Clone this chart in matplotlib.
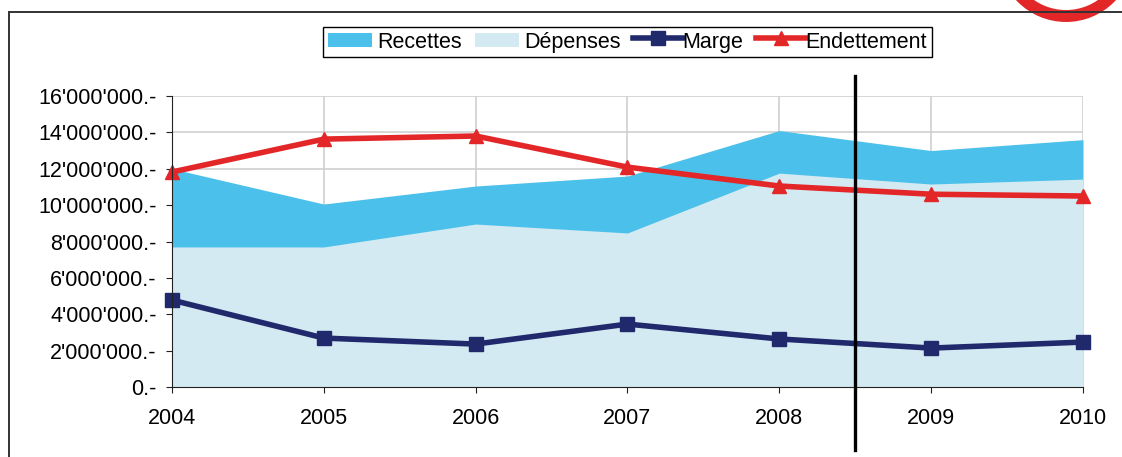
import numpy as np
import matplotlib
matplotlib.use("Agg")
import matplotlib.pyplot as plt
from matplotlib.lines import Line2D
from matplotlib.patches import Circle
from matplotlib.transforms import IdentityTransform
from matplotlib.legend_handler import HandlerLine2D

plt.rcParams["font.family"] = ["Liberation Sans", "DejaVu Sans"]
plt.rcParams["font.size"] = 12

years = [2004, 2005, 2006, 2007, 2008, 2009, 2010]
recettes = [12.0e6, 10.06e6, 11.05e6, 11.6e6, 14.1e6, 13.0e6, 13.6e6]
depenses = [7.7e6, 7.7e6, 8.96e6, 8.47e6, 11.76e6, 11.16e6, 11.43e6]
marge = [4.78e6, 2.69e6, 2.36e6, 3.46e6, 2.64e6, 2.14e6, 2.47e6]
endettement = [11.82e6, 13.63e6, 13.8e6, 12.09e6, 11.05e6, 10.6e6, 10.5e6]
y_ticks = [0, 2e6, 4e6, 6e6, 8e6, 10e6, 12e6, 14e6, 16e6]
split_year = 2008.5

C_REC = "#4bc0ea"
C_DEP = "#d3eaf2"
C_MARGE = "#1f296b"
C_DETTE = "#e32628"


def fmt(v):
    return f"{int(v):,}".replace(",", "'") + ".-"


class RaisedLine(HandlerLine2D):
    """Excel-like legend line: a bit longer and sitting higher than the text."""
    def create_artists(self, legend, orig_handle, xdescent, ydescent, width, height,
                       fontsize, trans):
        return super().create_artists(legend, orig_handle, xdescent, ydescent - 0.3 * height,
                                      width * 1.12, height, fontsize, trans)


fig = plt.figure(figsize=(11.22, 4.57), dpi=100)
ax = fig.add_axes([172 / 1122, 1 - 387 / 457, (1083 - 172) / 1122, (387 - 96) / 457])

ax.fill_between(years, 0, recettes, color=C_REC, lw=0, label="Recettes", zorder=1)
ax.fill_between(years, 0, depenses, color=C_DEP, lw=0, label="Dépenses", zorder=1.1)
l_marge, = ax.plot(years, marge, color=C_MARGE, lw=4.0, marker="s", ms=10, label="Marge",
                   zorder=3, clip_on=False)
l_dette, = ax.plot(years, endettement, color=C_DETTE, lw=4.0, marker="^", ms=10.5,
                   label="Endettement", zorder=3, clip_on=False)

ax.set_xlim(2004, 2010)
ax.set_ylim(0, 16e6)
ax.set_xticks(years)
ax.set_xticklabels([str(y) for y in years])
ax.set_yticks(y_ticks)
ax.set_yticklabels([fmt(v) for v in y_ticks])
ax.grid(True, color="#d0d0d0", lw=1.2, zorder=0)
ax.set_axisbelow(True)
for s in ("top", "right"):
    ax.spines[s].set_visible(False)
for s in ("left", "bottom"):
    ax.spines[s].set_color("#222222")
    ax.spines[s].set_zorder(4)
ax.tick_params(axis="both", direction="out", length=4.5, color="#222222", labelsize=15.5)
ax.tick_params(axis="y", pad=6.5)
ax.tick_params(axis="x", pad=10.5)

# separator between actual and budget years
ax.plot([split_year, split_year], [-3.46e6, 17.1e6], color="black", lw=2.4,
        clip_on=False, zorder=5)

raised = RaisedLine(numpoints=1)
fig.legend(loc="upper center", bbox_to_anchor=(627.5 / 1122, 1 - 27 / 457), ncol=4,
           frameon=True, fancybox=False, edgecolor="black", framealpha=1,
           fontsize=15.5, handlelength=2.05, handleheight=0.65, handletextpad=0.23,
           columnspacing=0.6, borderpad=0.22, borderaxespad=0,
           handler_map={l_marge: raised, l_dette: raised})

# page frame
fig.add_artist(Line2D([8.5 / 1122, 8.5 / 1122], [0, 1 - 12 / 457], color="#333333", lw=1.4,
                      transform=fig.transFigure))
fig.add_artist(Line2D([8.5 / 1122, 1], [1 - 12 / 457, 1 - 12 / 457], color="#333333", lw=1.4,
                      transform=fig.transFigure))
# logo ring at top right
fig.add_artist(Circle((1066, 457 + 46), 62, fill=False, edgecolor="#e32628", lw=8.6,
                      transform=IdentityTransform(), clip_on=False))

fig.savefig("out.png", dpi=100)
